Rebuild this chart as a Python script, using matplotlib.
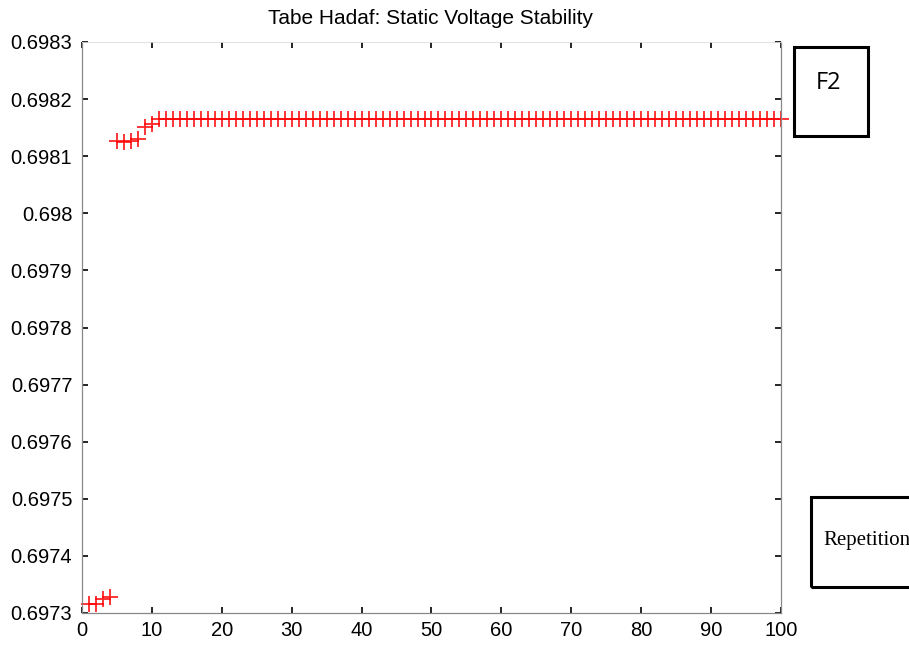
import matplotlib
matplotlib.use("Agg")
import matplotlib.pyplot as plt
from matplotlib.patches import Rectangle

iterations = list(range(1, 101))
fitness = ([0.697315, 0.697315, 0.697325, 0.697328]
           + [0.698127, 0.698125, 0.698127, 0.698130]
           + [0.698152, 0.698156]
           + [0.698165] * 90)

title = "Tabe Hadaf: Static Voltage Stability"
yticks = [0.6973, 0.6974, 0.6975, 0.6976, 0.6977, 0.6978, 0.6979, 0.698, 0.6981, 0.6982, 0.6983]
ytick_labels = ["0.6973", "0.6974", "0.6975", "0.6976", "0.6977", "0.6978",
                "0.6979", "0.698", "0.6981", "0.6982", "0.6983"]
xticks = [0, 10, 20, 30, 40, 50, 60, 70, 80, 90, 100]

plt.rcParams['font.family'] = ['Liberation Sans', 'DejaVu Sans']
fig = plt.figure(figsize=(9.09, 6.45), dpi=100)
ax = fig.add_axes([82/909, 1-613/645, (781-82)/909, (613-42)/645])

ax.plot(iterations, fitness, linestyle='none', marker='+', color='red',
        markersize=11, markeredgewidth=1.3, alpha=0.85, clip_on=False)

ax.set_xlim(0, 100)
ax.set_ylim(0.6973, 0.6983)
ax.set_xticks(xticks)
ax.set_xticklabels([str(v) for v in xticks])
ax.set_yticks(yticks)
ax.set_yticklabels(ytick_labels)
ax.tick_params(direction='in', length=4, width=1.2, labelsize=14.5,
               top=True, right=True, color='black')
ax.tick_params(axis='y', pad=7)
ax.tick_params(axis='x', pad=6)
for s in ['left', 'bottom', 'right']:
    ax.spines[s].set_color('#888888')
    ax.spines[s].set_linewidth(0.9)
ax.spines['top'].set_color('#dddddd')
ax.spines['top'].set_linewidth(0.6)

fig.text(431/909, 1-18/645, title, ha='center', va='center', fontsize=15)

# annotation boxes
fig.add_artist(Rectangle((794/909, 1-136/645), 74/909, 89/645, transform=fig.transFigure,
                         fill=False, edgecolor='black', linewidth=2.2))
fig.text(829/909, 1-83/645, "F2", ha='center', va='center', fontsize=17,
         family=['Open Sans', 'DejaVu Sans'])
fig.add_artist(Rectangle((811/909, 1-587/645), 110/909, 90/645, transform=fig.transFigure,
                         fill=False, edgecolor='black', linewidth=2.2, clip_on=False))
fig.text(823/909, 1-541/645, "Repetition", ha='left', va='center', fontsize=15,
         family=['Liberation Serif', 'DejaVu Serif'])

fig.savefig("out.png", dpi=100)
